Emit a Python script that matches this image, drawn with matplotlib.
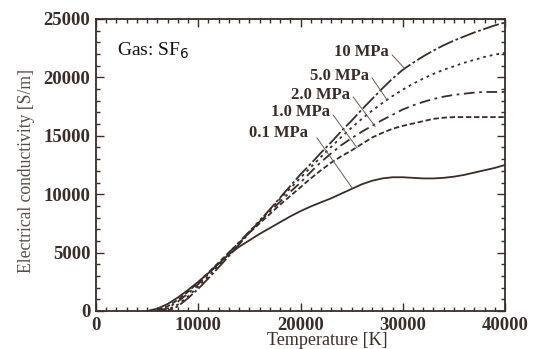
import matplotlib.pyplot as plt
from matplotlib.ticker import MultipleLocator

# temperature [K] and conductivity [S/m]
t_01 = [5000, 6000, 7000, 8000, 9000, 10000, 11000, 12000, 13000, 14000, 15000,
        16000, 17000, 18000, 19000, 20000, 21000, 22000, 23000, 24000, 25000,
        26000, 27000, 28000, 29000, 30000, 31000, 32000, 33000, 34000, 35000,
        36000, 37000, 38000, 39000, 40000]
s_01 = [0, 200, 600, 1150, 1800, 2500, 3250, 4050, 4850, 5500, 6050,
        6600, 7100, 7600, 8100, 8550, 8950, 9300, 9650, 10050, 10450,
        10850, 11150, 11350, 11450, 11450, 11400, 11350, 11350, 11400, 11500,
        11650, 11850, 12050, 12250, 12500]

t_hp = [6000, 7000, 8000, 9000, 10000, 11000, 12000, 13000, 14000, 15000,
        16000, 17000, 18000, 19000, 20000, 21000, 22000, 23000, 24000, 25000,
        26000, 27000, 28000, 29000, 30000, 31000, 32000, 33000, 34000, 35000,
        36000, 37000, 38000, 39000, 40000]
s_1 = [100, 400, 950, 1650, 2450, 3300, 4150, 5000, 5850, 6700,
       7500, 8300, 9100, 9850, 10600, 11350, 12050, 12700, 13250, 13750,
       14300, 14850, 15250, 15600, 15850, 16050, 16250, 16450, 16550, 16600,
       16600, 16600, 16600, 16600, 16600]
s_2 = [0, 250, 800, 1500, 2300, 3200, 4100, 5000, 5900, 6800,
       7650, 8500, 9350, 10200, 11000, 11900, 12750, 13500, 14200, 14800,
       15350, 15850, 16350, 16800, 17250, 17600, 17900, 18150, 18350, 18500,
       18600, 18700, 18750, 18750, 18750]
s_5 = [0, 100, 550, 1250, 2100, 3000, 3950, 4900, 5850, 6800,
       7750, 8650, 9600, 10500, 11400, 12300, 13200, 14050, 14900, 15700,
       16450, 17150, 17800, 18400, 18950, 19450, 19900, 20300, 20650, 20950,
       21250, 21500, 21750, 21950, 22100]
s_10 = [0, 0, 400, 1100, 1900, 2800, 3750, 4700, 5700, 6700,
        7700, 8700, 9700, 10700, 11700, 12600, 13550, 14450, 15400, 16300,
        17250, 18150, 19050, 19900, 20650, 21250, 21800, 22300, 22750, 23150,
        23500, 23850, 24150, 24450, 24700]

labels = ["0.1 MPa", "1.0 MPa", "2.0 MPa", "5.0 MPa", "10 MPa"]

ink = "#3a2c27"
plt.rcParams["font.family"] = ["Liberation Serif", "DejaVu Serif"]

fig = plt.figure(figsize=(5.34, 3.49), dpi=100)
ax = fig.add_axes([0.1798, 0.1089, 0.7659, 0.8367])

lw = 1.3
ax.plot(t_01, s_01, color=ink, lw=lw, ls="-")
ax.plot(t_hp, s_1, color=ink, lw=lw, ls=(0, (3, 1.5)))
ax.plot(t_hp, s_2, color=ink, lw=lw, ls=(0, (6, 2.5, 1.5, 2.5)))
ax.plot(t_hp, s_5, color=ink, lw=lw, ls=(0, (1.5, 2.2)))
ax.plot(t_hp, s_10, color=ink, lw=lw, ls=(0, (9, 1.5, 1.5, 1.5)))

# curve labels with leader lines: (text x, text y, line start, line end)
ann = [
    (20740, 15240, (21620, 14810), (25050, 10530)),
    (22900, 17040, (23190, 16780), (25540, 13960)),
    (24850, 18490, (25150, 18320), (27300, 15800)),
    (26710, 20120, (27000, 19950), (28470, 18070)),
    (28670, 22170, (28960, 21920), (30140, 20800)),
]
for lab, (tx, ty, p0, p1) in zip(labels, ann):
    ax.text(tx, ty, lab, ha="right", va="center", fontsize=12,
            fontweight="bold", color=ink)
    ax.plot([p0[0], p1[0]], [p0[1], p1[1]], color="#6a5e58", lw=0.7)

ax.text(2100, 22300, "Gas: SF$_6$", fontsize=14, color="#111111",
        ha="left", va="center")

ax.set_xlim(0, 40000)
ax.set_ylim(0, 25000)
ax.xaxis.set_major_locator(MultipleLocator(10000))
ax.xaxis.set_minor_locator(MultipleLocator(1000))
ax.yaxis.set_major_locator(MultipleLocator(5000))
ax.yaxis.set_minor_locator(MultipleLocator(1000))
ax.tick_params(which="both", direction="in", top=True, right=True,
               colors=ink, width=1.0)
ax.tick_params(which="major", length=6, labelsize=13.5, pad=4)
ax.tick_params(which="minor", length=3)
for lbl in ax.get_xticklabels() + ax.get_yticklabels():
    lbl.set_fontweight("bold")
for sp in ax.spines.values():
    sp.set_color(ink)
    sp.set_linewidth(1.3)

ax.set_xlabel("Temperature [K]", fontsize=13, color=ink)
ax.set_ylabel("Electrical conductivity [S/m]", fontsize=12.7, color="#5a4c46")
ax.xaxis.set_label_coords(0.565, -0.072)
ax.yaxis.label.set_verticalalignment("center")
ax.yaxis.set_label_coords(-0.171, 0.481)

fig.savefig("out.png", dpi=100)
